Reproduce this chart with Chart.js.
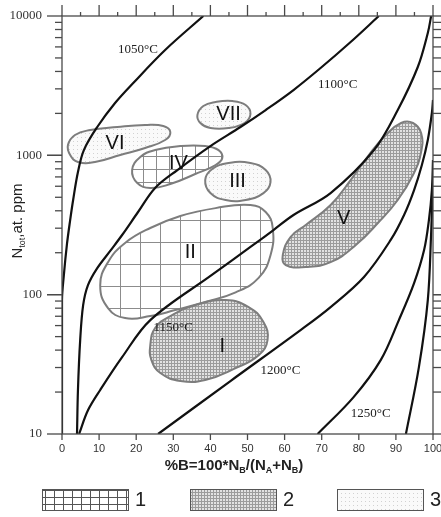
<!DOCTYPE html>
<html lang="en">
<head>
<meta charset="UTF-8">
<title>Nitrogen aggregation isotherms</title>
<script src="https://cdn.jsdelivr.net/npm/chart.js"></script>
<style>
  html, body { margin: 0; padding: 0; background: #fff; }
</style>
</head>
<body>
<canvas id="chart" width="441" height="517"></canvas>
<script>
// isotherms: %B against total nitrogen (at. ppm)
const iso1050X = [0, 0, 0.5, 1.35, 2.2, 3.0, 4.3, 5.9, 9.5, 14.3, 19.2, 27.8, 38.1];
const iso1050N = [10, 91.5, 138, 232, 343, 478, 759, 1091, 1597, 2373, 3304, 5700, 10000];
const iso1100X = [4.05, 4.3, 4.9, 5.7, 7.0, 9.5, 13, 16.2, 20.5, 25.1, 31.1, 40, 48.1, 54.9, 62.4, 69.7, 77.8, 85.4];
const iso1100N = [10, 20.7, 47.2, 84, 117, 155, 206, 268, 392, 583, 784, 1166, 1597, 2114, 2943, 4233, 6506, 10000];
const iso1150X = [4.6, 7.0, 10.3, 16.2, 23.8, 40.3, 50.8, 57, 62.4, 72.4, 84.1, 90.5, 95.9, 98.6, 99.5];
const iso1150N = [10, 14.8, 20.7, 35.6, 65.7, 138, 220, 291, 373, 536, 1091, 2114, 4304, 7551, 10000];
const iso1200X = [25.9, 45.4, 64.3, 72.4, 81.4, 88.6, 92.2, 94.9, 97, 98.6, 99.7, 100];
const iso1200N = [10, 24, 55.7, 81.5, 134, 247, 373, 563, 852, 1288, 2014, 2500];
const iso1250X = [68.9, 78.6, 85.9, 90.8, 94.9, 97.6, 98.9, 99.7, 100];
const iso1250N = [10, 18.4, 33.9, 65.7, 121, 209, 343, 563, 925];
const iso1300X = [92.7, 96.2, 98.6, 99.5, 100];
const iso1300N = [10, 30.2, 91.5, 277, 665];

// diamond groups (outline points, drawn as closed loops)
const regIX = [35.9, 44.1, 50.3, 54.3, 55.4, 53, 46.8, 38.6, 31.9, 26.5, 24.1, 23.8, 25.1, 29.2];
const regIN = [84, 91.5, 81.5, 63.6, 47.2, 36.8, 29.7, 24.4, 24, 27.4, 33.9, 43.5, 57.6, 70.2];
const regIIX = [31.9, 41.4, 50.8, 54.9, 56.8, 56.2, 53, 46.8, 38.6, 30.5, 23.8, 17, 12.4, 10.3, 12.4, 17, 23.8];
const regIIN = [367, 418, 440, 392, 301, 192, 132, 104, 88.5, 77.5, 70.2, 67.9, 80.1, 117, 171, 235, 301];
const regIIIX = [44.9, 50.8, 54.9, 56.2, 54.3, 49.5, 44.1, 40, 38.6, 40.5];
const regIIIN = [881, 881, 784, 643, 536, 478, 478, 536, 665, 797];
const regIVX = [31.9, 38.6, 42.2, 43.2, 41.4, 35.9, 29.2, 23.8, 20.3, 18.9, 21.1, 25.1];
const regIVN = [1166, 1166, 1091, 956, 852, 734, 622, 583, 633, 784, 972, 1091];
const regVX = [72.4, 77.8, 82.7, 87.3, 91.4, 94.6, 96.8, 96.8, 94.6, 90.5, 85.4, 79.2, 72.4, 65.7, 60.3, 59.5, 61.6, 65.7];
const regVN = [440, 665, 1005, 1399, 1706, 1706, 1446, 1056, 722, 478, 332, 227, 171, 158, 163, 192, 259, 316];
const regVIX = [14.9, 22.4, 27.3, 29.2, 27.8, 22.4, 15.7, 8.9, 4.3, 2.2, 1.6, 3.5, 7.6];
const regVIN = [1597, 1650, 1623, 1470, 1288, 1129, 1005, 895, 895, 1005, 1185, 1399, 1519];
const regVIIX = [45.9, 49.5, 50.8, 49.2, 44.9, 40, 37.3, 36.5, 38.1, 41.4];
const regVIIN = [2453, 2297, 1979, 1706, 1570, 1570, 1706, 1947, 2259, 2413];

// labels
const curveLabels = ['1050°C', '1100°C', '1150°C', '1200°C', '1250°C'];
const curveLabelX = [20.5, 74.3, 30, 58.9, 83.2];
const curveLabelN = [5700, 3197, 57.6, 28.7, 14.1];
const regionNames = ['I', 'II', 'III', 'IV', 'V', 'VI', 'VII'];
const regionLabelX = [43.2, 34.6, 47.3, 31.4, 75.9, 14.3, 44.9];
const regionLabelN = [42.8, 202, 654, 881, 355, 1226, 1979];
const legendLabels = ['1', '2', '3'];

const xTicks = [0, 10, 20, 30, 40, 50, 60, 70, 80, 90, 100];
const yTicks = [10, 100, 1000, 10000];

const SANS = '"Liberation Sans", Arial, sans-serif';
const SERIF = '"Liberation Serif", "Times New Roman", serif';

const canvas = document.getElementById('chart');
const ctx = canvas.getContext('2d');

function makePattern(w, h, draw) {
    const c = document.createElement('canvas');
    c.width = w; c.height = h;
    draw(c.getContext('2d'), w, h);
    return ctx.createPattern(c, 'repeat');
}
function gridPattern(w, h, bg, line) {
    return makePattern(w, h, (g) => {
        g.fillStyle = bg; g.fillRect(0, 0, w, h);
        g.fillStyle = line; g.fillRect(0, 0, 1, h); g.fillRect(0, 0, w, 1);
    });
}
const gridBig = gridPattern(20, 22, '#ffffff', '#8c8c8c');
const gridSmall = gridPattern(13, 13, '#ffffff', '#8c8c8c');
const gridLegend = gridPattern(9, 7, '#ffffff', '#555555');
const hatch = gridPattern(3, 3, '#e2e2e2', '#9c9c9c');
const dots = makePattern(4, 4, (g) => {
    g.fillStyle = '#fafafa'; g.fillRect(0, 0, 4, 4);
    g.fillStyle = '#d2d2d2'; g.fillRect(1, 1, 1, 1);
});

const pts = (xs, ns) => xs.map((v, i) => ({ x: v, y: ns[i] }));

function curve(xs, ns) {
    return {
        data: pts(xs, ns), showLine: true, fill: false,
        borderColor: '#111', borderWidth: 2.2, pointRadius: 0, tension: 0.35
    };
}
// closed outline: wrap one point on each end so the spline has no corner,
// and hide the two wrap segments
function region(xs, ns, pattern) {
    const p = pts(xs, ns);
    const m = p.length;
    const hidden = 'rgba(0,0,0,0)';
    return {
        data: [p[m - 1], ...p, p[0], p[1]], showLine: true, fill: 'shape',
        backgroundColor: pattern, borderColor: '#7d7d7d', borderWidth: 2,
        pointRadius: 0, tension: 0.45,
        segment: {
            borderColor: s => (s.p0DataIndex === 0 || s.p0DataIndex === m + 1) ? hidden : undefined
        }
    };
}

function drawRich(c, parts, cx, cy, size, weight) {
    const big = `${weight} ${size}px ${SANS}`;
    const small = `${weight} ${Math.round(size * 0.62)}px ${SANS}`;
    let w = 0;
    parts.forEach(([t, sub]) => { c.font = sub ? small : big; w += c.measureText(t).width; });
    let x = cx - w / 2;
    c.textAlign = 'left'; c.textBaseline = 'middle';
    parts.forEach(([t, sub]) => {
        c.font = sub ? small : big;
        c.fillText(t, x, sub ? cy + size * 0.32 : cy);
        x += c.measureText(t).width;
    });
}

// frame, ticks, labels and legend
const decor = {
    id: 'decor',
    afterDatasetsDraw(chart) {
        const { ctx: c, chartArea: a, scales: { x, y } } = chart;
        const line = (x1, y1, x2, y2) => { c.beginPath(); c.moveTo(x1, y1); c.lineTo(x2, y2); c.stroke(); };
        c.save();
        c.strokeStyle = '#4a4a4a'; c.lineWidth = 1.3;
        c.strokeRect(a.left, a.top, a.right - a.left, a.bottom - a.top);

        for (let v = 0; v <= 100; v += 5) {
            const px = x.getPixelForValue(v);
            const major = v % 10 === 0;
            line(px, a.top, px, a.top - (major ? 11 : 4));
            if (major) line(px, a.bottom, px, a.bottom + 6);
        }
        for (let d = 10; d < 10000; d *= 10) {
            for (let k = 1; k <= 10; k++) {
                const py = y.getPixelForValue(k * d);
                const major = k === 1 || k === 10;
                line(a.left, py, a.left - (major ? 15 : 7), py);
                line(a.right, py, a.right + 8, py);
            }
        }

        c.fillStyle = '#222';
        c.font = `13px ${SERIF}`;
        c.textAlign = 'center'; c.textBaseline = 'middle';
        curveLabels.forEach((t, i) => {
            c.fillText(t, x.getPixelForValue(curveLabelX[i]), y.getPixelForValue(curveLabelN[i]));
        });
        c.fillStyle = '#111';
        c.font = `20px ${SANS}`;
        regionNames.forEach((t, i) => {
            c.fillText(t, x.getPixelForValue(regionLabelX[i]), y.getPixelForValue(regionLabelN[i]));
        });

        // axis titles
        c.fillStyle = '#222';
        drawRich(c, [['%B=100*N'], ['B', 1], ['/(N'], ['A', 1], ['+N'], ['B', 1], [')']],
            234, 466, 15, 'bold');
        c.save();
        c.translate(18, 221);
        c.rotate(-Math.PI / 2);
        drawRich(c, [['N'], ['tot', 1], [',at. ppm']], 0, 0, 15, 'normal');
        c.restore();

        // legend
        const fills = [gridLegend, hatch, dots];
        const bx = [42, 190, 337];
        c.strokeStyle = '#555'; c.lineWidth = 1;
        legendLabels.forEach((t, i) => {
            c.fillStyle = fills[i];
            c.fillRect(bx[i], 489, 86, 21);
            c.strokeRect(bx[i] + 0.5, 489.5, 86, 21);
            c.fillStyle = '#222';
            c.font = `20px ${SANS}`;
            c.textAlign = 'left';
            c.fillText(t, bx[i] + 93, 500);
        });
        c.restore();
    }
};

new Chart(ctx, {
    type: 'scatter',
    data: {
        datasets: [
            curve(iso1050X, iso1050N),
            curve(iso1100X, iso1100N),
            curve(iso1150X, iso1150N),
            curve(iso1200X, iso1200N),
            curve(iso1250X, iso1250N),
            curve(iso1300X, iso1300N),
            region(regIX, regIN, hatch),
            region(regVX, regVN, hatch),
            region(regIIX, regIIN, gridBig),
            region(regIVX, regIVN, gridSmall),
            region(regIIIX, regIIIN, dots),
            region(regVIIX, regVIIN, dots),
            region(regVIX, regVIN, dots)
        ]
    },
    options: {
        responsive: false,
        animation: false,
        layout: { padding: { top: 16, right: 8, left: 0, bottom: 0 } },
        plugins: { legend: { display: false }, tooltip: { enabled: false } },
        scales: {
            x: {
                type: 'linear', min: 0, max: 100,
                grid: { display: false, drawTicks: false },
                border: { display: false },
                afterBuildTicks: s => { s.ticks = xTicks.map(v => ({ value: v })); },
                ticks: { padding: 8, color: '#333', font: { family: SANS, size: 11 } },
                afterFit: s => { s.height = 83; s.paddingLeft = 0; s.paddingRight = 0; }
            },
            y: {
                type: 'logarithmic', min: 10, max: 10000,
                grid: { display: false, drawTicks: false },
                border: { display: false },
                afterBuildTicks: s => { s.ticks = yTicks.map(v => ({ value: v })); },
                ticks: { padding: 20, color: '#333', font: { family: SERIF, size: 13 }, callback: v => String(v) },
                afterFit: s => { s.width = 62; s.paddingTop = 0; s.paddingBottom = 0; }
            }
        }
    },
    plugins: [decor]
});
</script>
</body>
</html>
